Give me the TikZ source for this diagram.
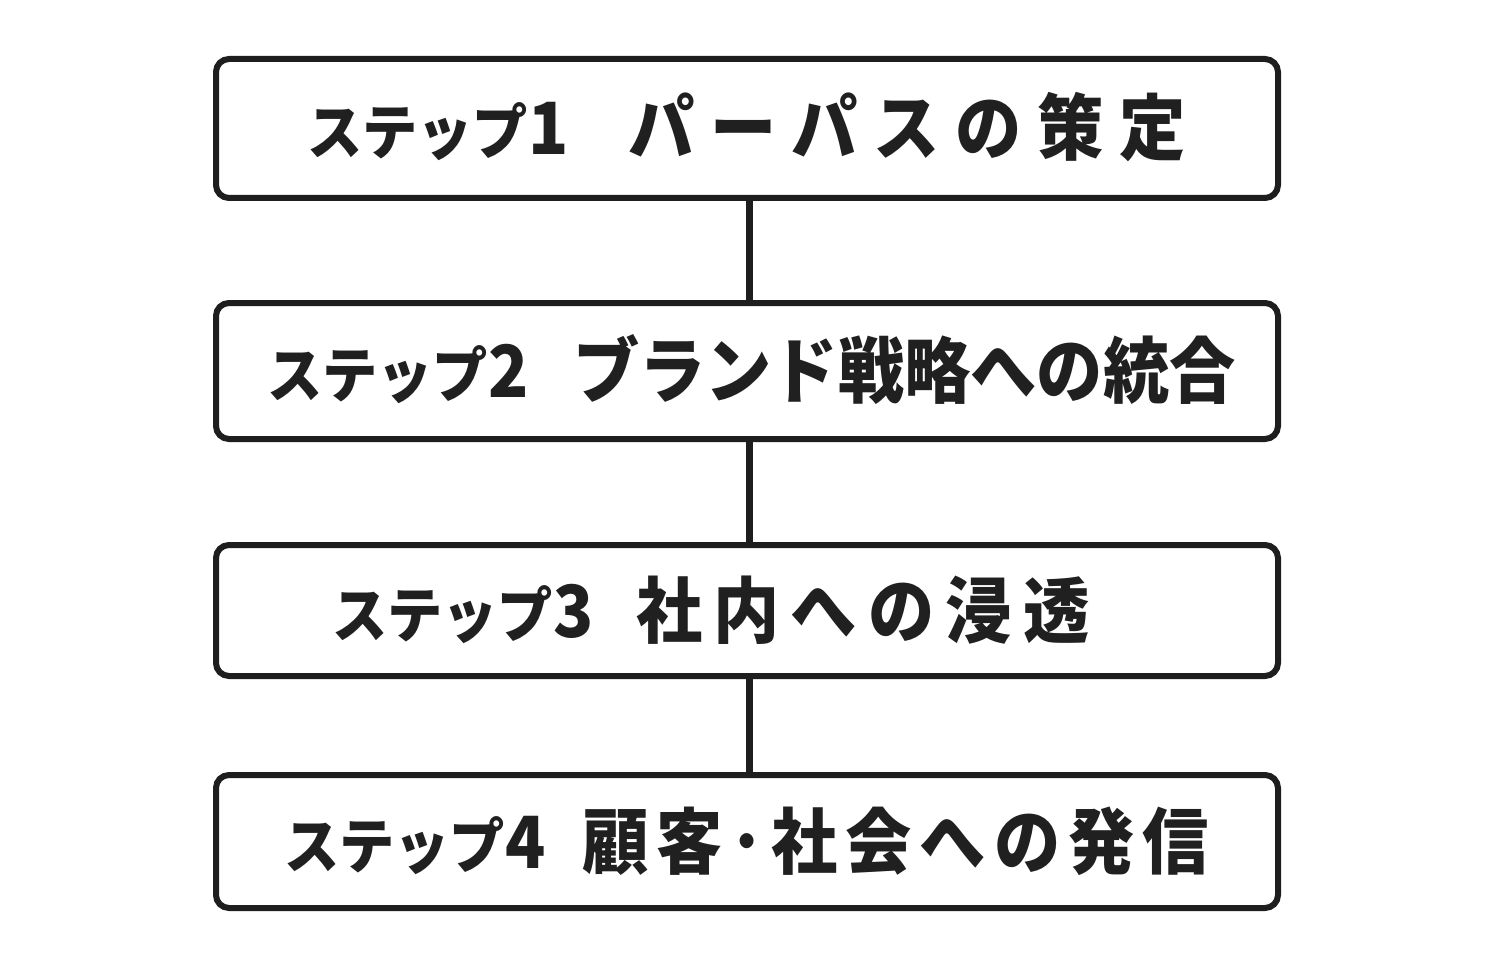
\documentclass[tikz,border=0pt]{standalone}
\usepackage{fontspec}
\newfontfamily\jp[FakeStretch=0.92]{Noto Sans CJK JP}
\definecolor{linec}{HTML}{1E1E1E}
\definecolor{txtc}{HTML}{202020}
\newcommand{\dig}[1]{{\fontsize{72}{72}\selectfont #1}}
\begin{document}
\begin{tikzpicture}[x=1pt,y=-1pt,
  stepbox/.style={draw=linec, line width=6pt, rounded corners=13pt, fill=white,
    rectangle, minimum width=1062pt, inner sep=0pt},
  conn/.style={draw=linec, line width=7pt},
  steplbl/.style={inner sep=0pt, anchor=base west, text=txtc,
    font=\jp\bfseries\fontsize{60}{60}\selectfont},
  titlelbl/.style={inner sep=0pt, anchor=base west, text=txtc,
    font=\jp\bfseries\fontsize{72}{72}\selectfont\addfontfeature{LetterSpace=#1}},
]
\fill[white] (0,0) rectangle (1500,960);
\useasboundingbox (0,0) rectangle (1500,960);

\node[stepbox, minimum height=139pt] (b1) at (747,128.5) {};
\node[stepbox, minimum height=136pt] (b2) at (747,371) {};
\node[stepbox, minimum height=131pt] (b3) at (747,610.5) {};
\node[stepbox, minimum height=133pt] (b4) at (747,841.5) {};

\draw[conn] ([xshift=2pt]b1.south) -- ([xshift=2pt]b2.north);
\draw[conn] ([xshift=2pt]b2.south) -- ([xshift=2pt]b3.north);
\draw[conn] ([xshift=2pt]b3.south) -- ([xshift=2pt]b4.north);

\node[steplbl] (s1) at (307,155) {ステップ\dig{1}};
\node[titlelbl=22] (t1) at (628,155) {パーパスの策定};

\node[steplbl] (s2) at (267,397.5) {ステップ\dig{2}};
\node[titlelbl=0] (t2) at (573,397.5) {ブランド戦略への統合};

\node[steplbl] (s3) at (332,637) {ステップ\dig{3}};
\node[titlelbl=15.5] (t3) at (636,637) {社内への浸透};

\node[steplbl] (s4) at (284,868) {ステップ\dig{4}};
\node[titlelbl=11] (t4) at (582,868) {顧客･社会への発信};
\end{tikzpicture}
\end{document}
